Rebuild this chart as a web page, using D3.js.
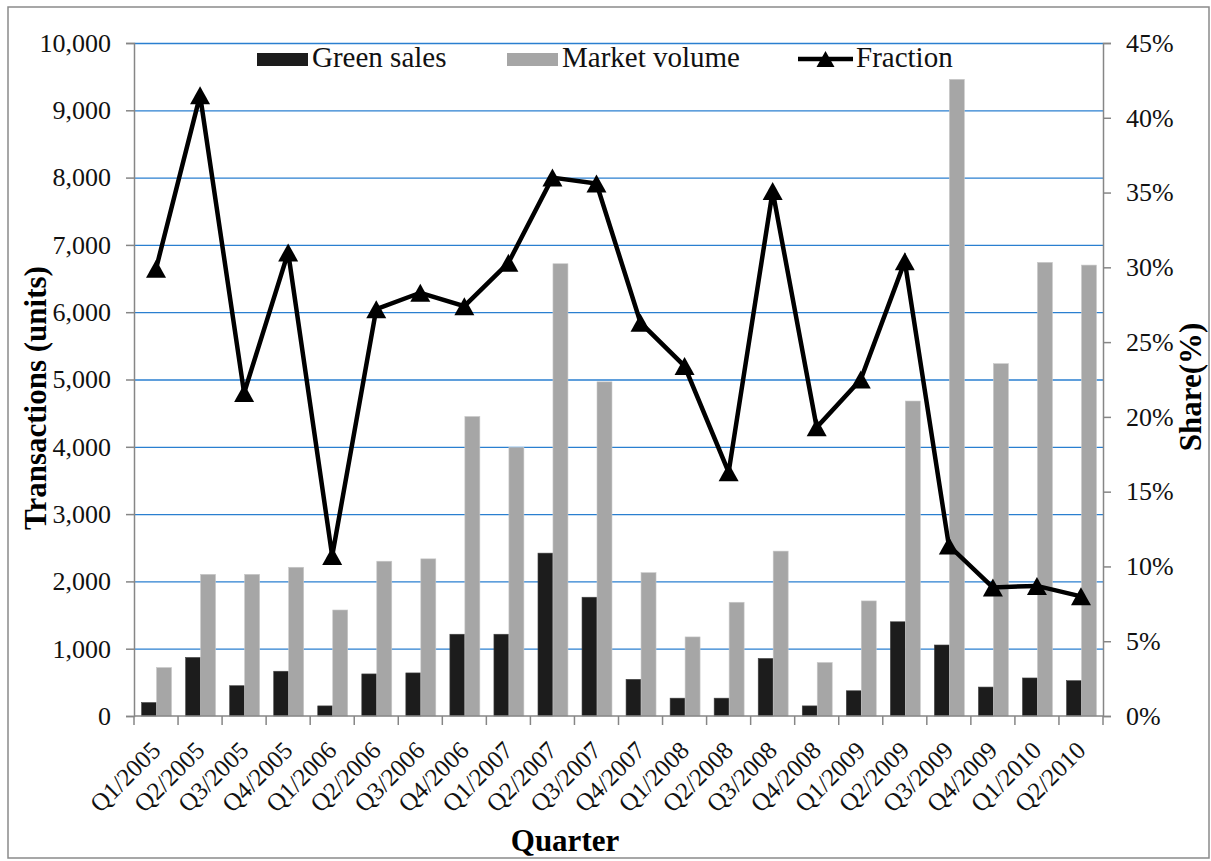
<!DOCTYPE html>
<html>
<head>
<meta charset="utf-8">
<script src="https://cdn.jsdelivr.net/npm/d3@7"></script>
<style>
  html, body { margin: 0; padding: 0; background: #fff; }
  svg { display: block; font-family: "Liberation Serif", "Times New Roman", serif; }
</style>
</head>
<body>
<svg id="chart" width="1211" height="861"></svg>
<script>
const quarters = ["Q1/2005","Q2/2005","Q3/2005","Q4/2005","Q1/2006","Q2/2006","Q3/2006","Q4/2006",
  "Q1/2007","Q2/2007","Q3/2007","Q4/2007","Q1/2008","Q2/2008","Q3/2008","Q4/2008",
  "Q1/2009","Q2/2009","Q3/2009","Q4/2009","Q1/2010","Q2/2010"];
const greenSales = [200, 870, 450, 665, 150, 625, 640, 1215, 1215, 2420, 1765, 545,
  265, 265, 855, 150, 375, 1400, 1055, 430, 565, 525];
const marketVolume = [720, 2105, 2105, 2210, 1575, 2300, 2335, 4450, 3990, 6720, 4965, 2130,
  1175, 1690, 2450, 795, 1710, 4680, 9460, 5235, 6740, 6700];
const fraction = [29.9, 41.5, 21.6, 31.0, 10.7, 27.2, 28.3, 27.4, 30.3, 36.0, 35.6, 26.3,
  23.4, 16.3, 35.1, 19.3, 22.5, 30.4, 11.4, 8.6, 8.7, 8.0];
const leftTicks = [0,1000,2000,3000,4000,5000,6000,7000,8000,9000,10000];
const rightTicks = [0,5,10,15,20,25,30,35,40,45];
const seriesNames = ["Green sales", "Market volume", "Fraction"];

const svg = d3.select("#chart");
const L = 134, R = 1103, T = 43, B = 716;
const axisColor = "#868686", gridColor = "#2a7fd0";
const cBlack = "#1c1c1c", cGray = "#a6a6a6";

// outer border
svg.append("rect").attr("x", 8).attr("y", 7).attr("width", 1201).attr("height", 851)
  .attr("fill", "none").attr("stroke", "#8a8a8a").attr("stroke-width", 1.5);

const x = d3.scaleBand().domain(quarters).range([L, R]).padding(0);
const bw = x.bandwidth();
const x1 = d3.scaleBand().domain(["g","m"]).range([bw * 0.172, bw * 0.852]).padding(0);
const y = d3.scaleLinear().domain([0, 10000]).range([B, T]);
const y2 = d3.scaleLinear().domain([0, 45]).range([B, T]);

// gridlines
svg.append("g").selectAll("line").data(leftTicks.filter(d => d > 0)).join("line")
  .attr("x1", L).attr("x2", R).attr("y1", d => y(d) + 0.5).attr("y2", d => y(d) + 0.5)
  .attr("stroke", gridColor).attr("stroke-width", 1.3);

// bars
const bars = svg.append("g");
bars.selectAll("rect.g").data(quarters).join("rect").attr("class", "g")
  .attr("x", d => x(d) + x1("g")).attr("width", x1.bandwidth())
  .attr("y", (d, i) => y(greenSales[i])).attr("height", (d, i) => B - y(greenSales[i]))
  .attr("fill", cBlack).attr("stroke", "#444").attr("stroke-width", 0.6);
bars.selectAll("rect.m").data(quarters).join("rect").attr("class", "m")
  .attr("x", d => x(d) + x1("m")).attr("width", x1.bandwidth())
  .attr("y", (d, i) => y(marketVolume[i])).attr("height", (d, i) => B - y(marketVolume[i]))
  .attr("fill", cGray).attr("stroke", "#c8c8c8").attr("stroke-width", 0.6);

// left axis
const yAxis = d3.axisLeft(y).tickValues(leftTicks).tickSize(8).tickPadding(15)
  .tickFormat(d3.format(","));
const gL = svg.append("g").attr("transform", `translate(${L},0)`).call(yAxis);
gL.select(".domain").attr("stroke", axisColor).attr("stroke-width", 1.5);
gL.selectAll(".tick line").attr("stroke", axisColor).attr("stroke-width", 1.5);
gL.selectAll(".tick text").attr("font-size", 26).attr("fill", "#111")
  .attr("font-family", "Liberation Serif");

// right axis
const yAxis2 = d3.axisRight(y2).tickValues(rightTicks).tickSize(8).tickPadding(15)
  .tickFormat(d => d + "%");
const gR = svg.append("g").attr("transform", `translate(${R},0)`).call(yAxis2);
gR.select(".domain").attr("stroke", axisColor).attr("stroke-width", 1.5);
gR.selectAll(".tick line").attr("stroke", axisColor).attr("stroke-width", 1.5);
gR.selectAll(".tick text").attr("font-size", 26).attr("fill", "#111")
  .attr("font-family", "Liberation Serif");

// x axis
svg.append("line").attr("x1", L).attr("x2", R).attr("y1", B).attr("y2", B)
  .attr("stroke", axisColor).attr("stroke-width", 1.5);
const tickXs = quarters.map(q => x(q)).concat([R]);
svg.append("g").selectAll("line").data(tickXs).join("line")
  .attr("x1", d => d).attr("x2", d => d).attr("y1", B).attr("y2", B + 9)
  .attr("stroke", axisColor).attr("stroke-width", 1.5);
svg.append("g").selectAll("text").data(quarters).join("text")
  .attr("transform", d => `translate(${x(d) + bw / 2 + 6},752) rotate(-45)`)
  .attr("text-anchor", "end").attr("font-size", 25).attr("fill", "#111")
  .text(d => d);

// fraction line
const line = d3.line().x((d, i) => x(quarters[i]) + bw / 2).y(d => y2(d));
svg.append("path").datum(fraction).attr("d", line)
  .attr("fill", "none").attr("stroke", "#000").attr("stroke-width", 4.5)
  .attr("stroke-linejoin", "miter");
const tri = (cx, cy, w, h) => `M${cx},${cy - h / 2}L${cx + w / 2},${cy + h / 2}L${cx - w / 2},${cy + h / 2}Z`;
svg.append("g").selectAll("path").data(fraction).join("path")
  .attr("d", (d, i) => tri(x(quarters[i]) + bw / 2, y2(d), 20, 18))
  .attr("fill", "#000");

// legend
const lg = svg.append("g").attr("font-size", 29).attr("fill", "#111");
lg.append("rect").attr("x", 257).attr("y", 53).attr("width", 51).attr("height", 13).attr("fill", cBlack);
lg.append("text").attr("x", 312).attr("y", 67).text(seriesNames[0]);
lg.append("rect").attr("x", 507).attr("y", 53).attr("width", 51).attr("height", 13).attr("fill", cGray);
lg.append("text").attr("x", 562).attr("y", 67).text(seriesNames[1]);
lg.append("line").attr("x1", 798).attr("x2", 853).attr("y1", 59).attr("y2", 59)
  .attr("stroke", "#000").attr("stroke-width", 4.5);
lg.append("path").attr("d", tri(825.5, 59, 18, 16)).attr("fill", "#000");
lg.append("text").attr("x", 856).attr("y", 67).text(seriesNames[2]);

// axis titles
svg.append("text").attr("transform", "translate(46,398) rotate(-90)")
  .attr("text-anchor", "middle").attr("font-size", 31).attr("font-weight", "bold")
  .attr("fill", "#000").text("Transactions (units)");
svg.append("text").attr("transform", "translate(1201,387) rotate(-90)")
  .attr("text-anchor", "middle").attr("font-size", 31).attr("font-weight", "bold")
  .attr("fill", "#000").text("Share(%)");
svg.append("text").attr("x", 565).attr("y", 851)
  .attr("text-anchor", "middle").attr("font-size", 31).attr("font-weight", "bold")
  .attr("fill", "#000").text("Quarter");
</script>
</body>
</html>
